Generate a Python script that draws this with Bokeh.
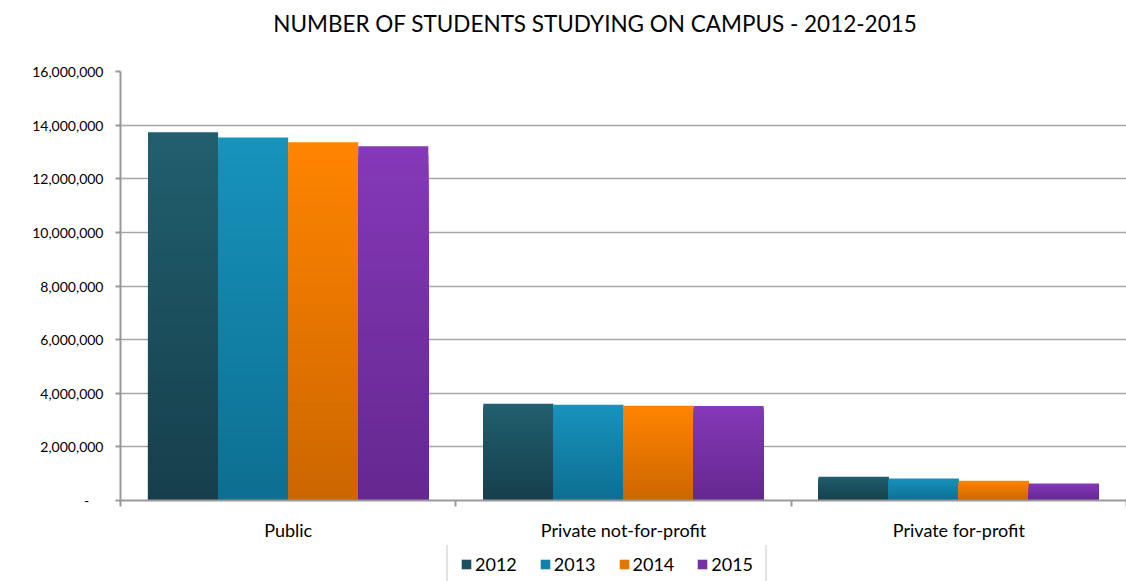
import numpy as np
from bokeh.plotting import figure
from bokeh.layouts import column
from bokeh.models import (Range1d, FixedTicker, CustomJSTickFormatter, Legend,
                          LegendItem, Label)
from bokeh.embed import file_html
from bokeh.resources import INLINE

categories = ["Public", "Private not-for-profit", "Private for-profit"]
years = ["2012", "2013", "2014", "2015"]
v2012 = [13730000, 3610000, 890000]
v2013 = [13540000, 3570000, 820000]
v2014 = [13360000, 3530000, 740000]
v2015 = [13210000, 3520000, 630000]
y_ticks = [0, 2000000, 4000000, 6000000, 8000000, 10000000, 12000000, 14000000, 16000000]
title_text = "NUMBER OF STUDENTS STUDYING ON CAMPUS - 2012-2015"

series = [v2012, v2013, v2014, v2015]
top_colors = ["#215f6f", "#1793bd", "#ff8400", "#8538b8"]
bot_colors = ["#163f4b", "#0d6f91", "#cc6600", "#64288f"]

FONT = "Lato"
W = 1126


def hex2rgb(h):
    h = h.lstrip("#")
    return np.array([int(h[i:i + 2], 16) for i in (0, 2, 4)], dtype=float)


def rgb2hex(c):
    return "#%02x%02x%02x" % tuple(int(round(x)) for x in c)


def blank(fig):
    fig.axis.visible = False
    fig.grid.visible = False
    fig.outline_line_color = None


# ---- title strip ----
pt = figure(width=W, height=45, output_backend="svg", toolbar_location=None,
            x_range=Range1d(0, 1), y_range=Range1d(0, 1),
            min_border=0, min_border_left=0, min_border_right=0,
            min_border_top=0, min_border_bottom=0)
blank(pt)
pt.add_layout(Label(x=0.472, y=0.5, text=title_text, text_font=FONT,
                    text_font_size="22.5px", text_align="center",
                    text_baseline="middle", text_color="#000000"))

# ---- main chart ----
p = figure(width=W, height=500, output_backend="svg", toolbar_location=None,
           x_range=Range1d(0, len(categories)), y_range=Range1d(0, 16000000),
           min_border_left=120, min_border_right=0, min_border_top=26,
           min_border_bottom=45)
p.outline_line_color = None

N = 40
bar_w = 0.209
offsets = (np.arange(len(years)) - 1.5) * bar_w
centers = np.arange(len(categories)) + 0.5
for si, vals in enumerate(series):
    vals = np.array(vals, dtype=float)
    xs = centers + offsets[si]
    ct, cb = hex2rgb(top_colors[si]), hex2rgb(bot_colors[si])
    for k in range(N):
        frac = (N - k) / N
        col = rgb2hex(cb + (ct - cb) * (frac - 0.5 / N))
        p.vbar(x=xs, width=bar_w, bottom=0, top=vals * frac,
               fill_color=col, line_color=None)

p.yaxis.ticker = FixedTicker(ticks=y_ticks)
p.yaxis.formatter = CustomJSTickFormatter(code="""
    if (tick == 0) { return "-\u00a0\u00a0\u00a0\u00a0"; }
    return tick.toLocaleString("en-US");
""")
p.xaxis.ticker = FixedTicker(ticks=list(centers), minor_ticks=list(range(len(categories) + 1)))
p.xaxis.major_label_overrides = {float(c): cat for c, cat in zip(centers, categories)}
p.xaxis.major_tick_line_color = None
p.xaxis.minor_tick_line_color = "#999999"
p.xaxis.minor_tick_line_width = 2
p.xaxis.minor_tick_out = 6
p.xaxis.minor_tick_in = 0
p.yaxis.minor_tick_line_color = None
p.yaxis.major_tick_line_color = "#999999"
p.yaxis.major_tick_line_width = 2
p.yaxis.major_tick_out = 5
p.yaxis.major_tick_in = 0
for ax in (p.xaxis, p.yaxis):
    ax.axis_line_color = "#999999"
    ax.axis_line_width = 2
    ax.major_label_text_font = FONT
    ax.major_label_text_color = "#000000"
p.yaxis.major_label_text_font_size = "14px"
p.xaxis.major_label_text_font_size = "18px"
p.yaxis.major_label_standoff = 12
p.xaxis.major_label_standoff = 12

p.xgrid.grid_line_color = None
p.ygrid.ticker = FixedTicker(ticks=y_ticks)
p.ygrid.grid_line_color = "#a6a6a6"
p.ygrid.grid_line_width = 1.5

# ---- legend strip (its bars fall outside its x range; only swatches show) ----
pl = figure(width=W, height=36, output_backend="svg", toolbar_location=None,
            x_range=Range1d(-100, -99), y_range=Range1d(0, 16000000),
            min_border=0, min_border_left=0, min_border_right=0,
            min_border_top=0, min_border_bottom=0)
blank(pl)
items = []
for si, vals in enumerate(series):
    mid = rgb2hex((hex2rgb(top_colors[si]) + hex2rgb(bot_colors[si])) / 2)
    r = pl.vbar(x=centers + offsets[si], width=bar_w, bottom=0, top=vals,
                fill_color=mid, line_color=None)
    items.append(LegendItem(label=years[si], renderers=[r]))
legend = Legend(items=items, orientation="horizontal", location=(326, -8),
                label_text_font=FONT, label_text_font_size="18px",
                label_text_color="#000000",
                glyph_width=12, glyph_height=12, label_standoff=3, spacing=22,
                padding=12, margin=0, border_line_color="#c8c8c8",
                border_line_width=2, background_fill_color="white",
                label_height=20)
pl.add_layout(legend, "center")

layout = column(pt, p, pl, spacing=0)
open("out.html", "w").write(file_html(layout, INLINE))
